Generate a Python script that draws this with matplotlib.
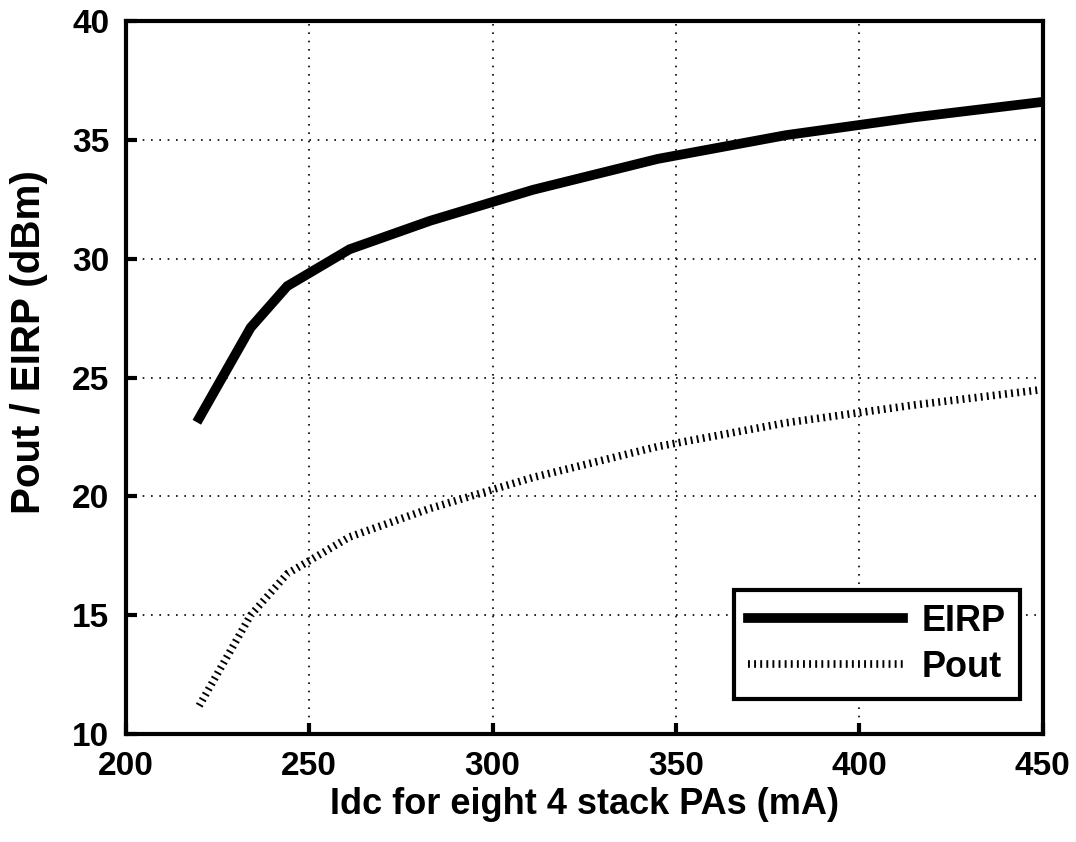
import numpy as np
import matplotlib.pyplot as plt

plt.rcParams['font.family'] = ['Liberation Sans', 'DejaVu Sans']
plt.rcParams['font.weight'] = 'bold'

# Total DC current for eight 4-stack PAs (mA)
idc = [220, 234, 244, 261, 283, 311, 345, 380, 415, 450]
# Radiated power and PA output power (dBm)
eirp = [23.3, 27.1, 28.85, 30.4, 31.6, 32.9, 34.2, 35.2, 35.95, 36.6]
pout = [11.2, 15.0, 16.75, 18.3, 19.5, 20.8, 22.1, 23.1, 23.85, 24.5]

xticks = [200, 250, 300, 350, 400, 450]
yticks = [10, 15, 20, 25, 30, 35, 40]

fig = plt.figure(figsize=(10.76, 8.42), dpi=100)
ax = fig.add_axes([0.117, 0.128, 0.852, 0.847])

ax.plot(idc, eirp, color='black', lw=7, solid_joinstyle='miter', label='EIRP')
ax.plot(idc, pout, color='black', lw=5.5, linestyle=(0, (0.25, 0.55)),
        dash_capstyle='butt', label='Pout')

ax.set_xlim(200, 450)
ax.set_ylim(10, 40)
ax.set_xticks(xticks)
ax.set_yticks(yticks)
ax.grid(True, color='black', linestyle=(0, (1, 4)), lw=1.2)

for s in ax.spines.values():
    s.set_linewidth(3)
ax.tick_params(direction='in', length=8, width=3, labelsize=24, pad=12,
               top=False, right=False)
for lab in ax.get_xticklabels() + ax.get_yticklabels():
    lab.set_fontweight('bold')

ax.set_xlabel('Idc for eight 4 stack PAs (mA)', fontsize=26, fontweight='bold', labelpad=4)
ax.set_ylabel('Pout / EIRP (dBm)', fontsize=29, fontweight='bold', labelpad=10)
ax.yaxis.set_label_coords(-0.085, 0.55)

leg = ax.legend(loc='lower right', bbox_to_anchor=(0.975, 0.049), borderaxespad=0,
                handlelength=4.3, fancybox=False, framealpha=1,
                edgecolor='black', prop={'weight': 'bold', 'size': 26},
                borderpad=0.4, labelspacing=0.3, handletextpad=0.5)
leg.get_frame().set_linewidth(3)

fig.savefig('out.png', dpi=100)
